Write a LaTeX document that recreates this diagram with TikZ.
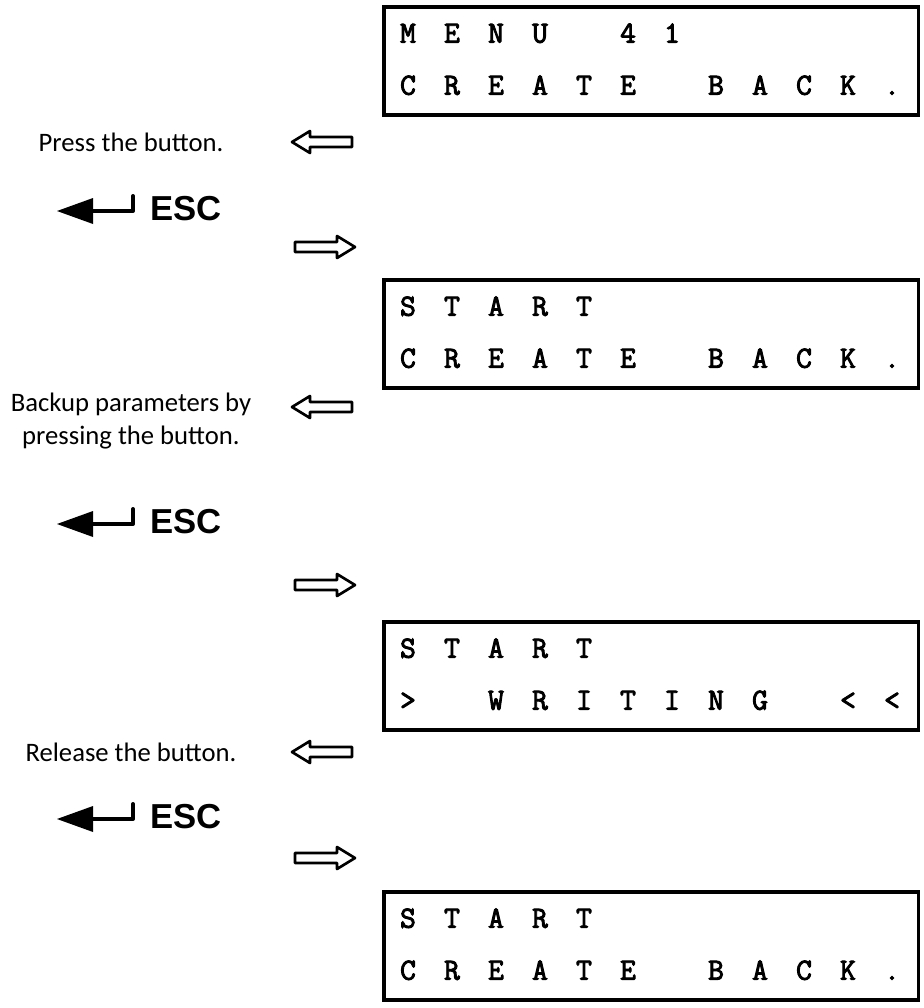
\documentclass[tikz,border=0pt]{standalone}
\usepackage{fontspec}
\setmainfont{Carlito}
\newfontfamily\keyfont{Liberation Sans}
\newfontfamily\lcdfont{Latin Modern Mono}[FakeBold=3]
\newcommand{\lcdrow}[2]{%
  \foreach \c [count=\i from 0] in {#2}
    \node[lcdchar] at (408+44*\i,#1) {\c};}

\begin{document}
\begin{tikzpicture}[x=0.75pt, y=-0.75pt,
    lcdbox/.style={draw, line width=2.7pt, anchor=north west, minimum width=401pt, minimum height=81pt, inner sep=0pt},
    lcdchar/.style={font=\lcdfont\fontsize{23}{23}\selectfont, inner sep=0pt, text height=13pt, text depth=0pt},
    note/.style={font=\fontsize{20}{25}\selectfont, align=center, inner sep=0pt},
    esctext/.style={font=\keyfont\bfseries\fontsize{26}{26}\selectfont, anchor=west, inner sep=0pt},
    larrow/.pic={\draw[line width=2pt, line join=round] (0,0) -- (18,-11) -- (18,-5) -- (60,-5) -- (60,5) -- (18,5) -- (18,11) -- cycle;},
    rarrow/.pic={\draw[line width=2pt, line join=round] (0,-5) -- (42,-5) -- (42,-11) -- (60,0) -- (42,11) -- (42,5) -- (0,5) -- cycle;},
    esckey/.pic={\fill (0,0) -- (36,-13) -- (36,13) -- cycle;
      \draw[line width=3pt, line cap=round, line join=round] (34,0) -- (76,0) -- (76,-15);}]
  \useasboundingbox (0,0) rectangle (924,1008);

  \node[lcdbox] (lcd1) at (382,5) {};
  \lcdrow{34}{M,E,N,U,{},4,1}
  \lcdrow{86}{C,R,E,A,T,E,{},B,A,C,K,.}
  \node[note] (press) at (131,142) {Press the button.};
  \pic at (292,142) {larrow};
  \pic at (57,211) {esckey};
  \node[esctext] (esc1) at (150,209) {ESC};
  \pic at (295,247) {rarrow};

  \node[lcdbox] (lcd2) at (382,278) {};
  \lcdrow{307}{S,T,A,R,T}
  \lcdrow{359}{C,R,E,A,T,E,{},B,A,C,K,.}
  \node[note] (backup) at (131,421) {Backup parameters by\\pressing the button.};
  \pic at (292,407) {larrow};
  \pic at (57,524) {esckey};
  \node[esctext] (esc2) at (150,522) {ESC};
  \pic at (295,585) {rarrow};

  \node[lcdbox] (lcd3) at (382,620) {};
  \lcdrow{649}{S,T,A,R,T}
  \lcdrow{701}{>,{},W,R,I,T,I,N,G,{},<,<}
  \node[note] (release) at (131,752) {Release the button.};
  \pic at (292,752) {larrow};
  \pic at (57,819) {esckey};
  \node[esctext] (esc3) at (150,817) {ESC};
  \pic at (295,858) {rarrow};

  \node[lcdbox] (lcd4) at (382,890) {};
  \lcdrow{919}{S,T,A,R,T}
  \lcdrow{971}{C,R,E,A,T,E,{},B,A,C,K,.}
\end{tikzpicture}
\end{document}
